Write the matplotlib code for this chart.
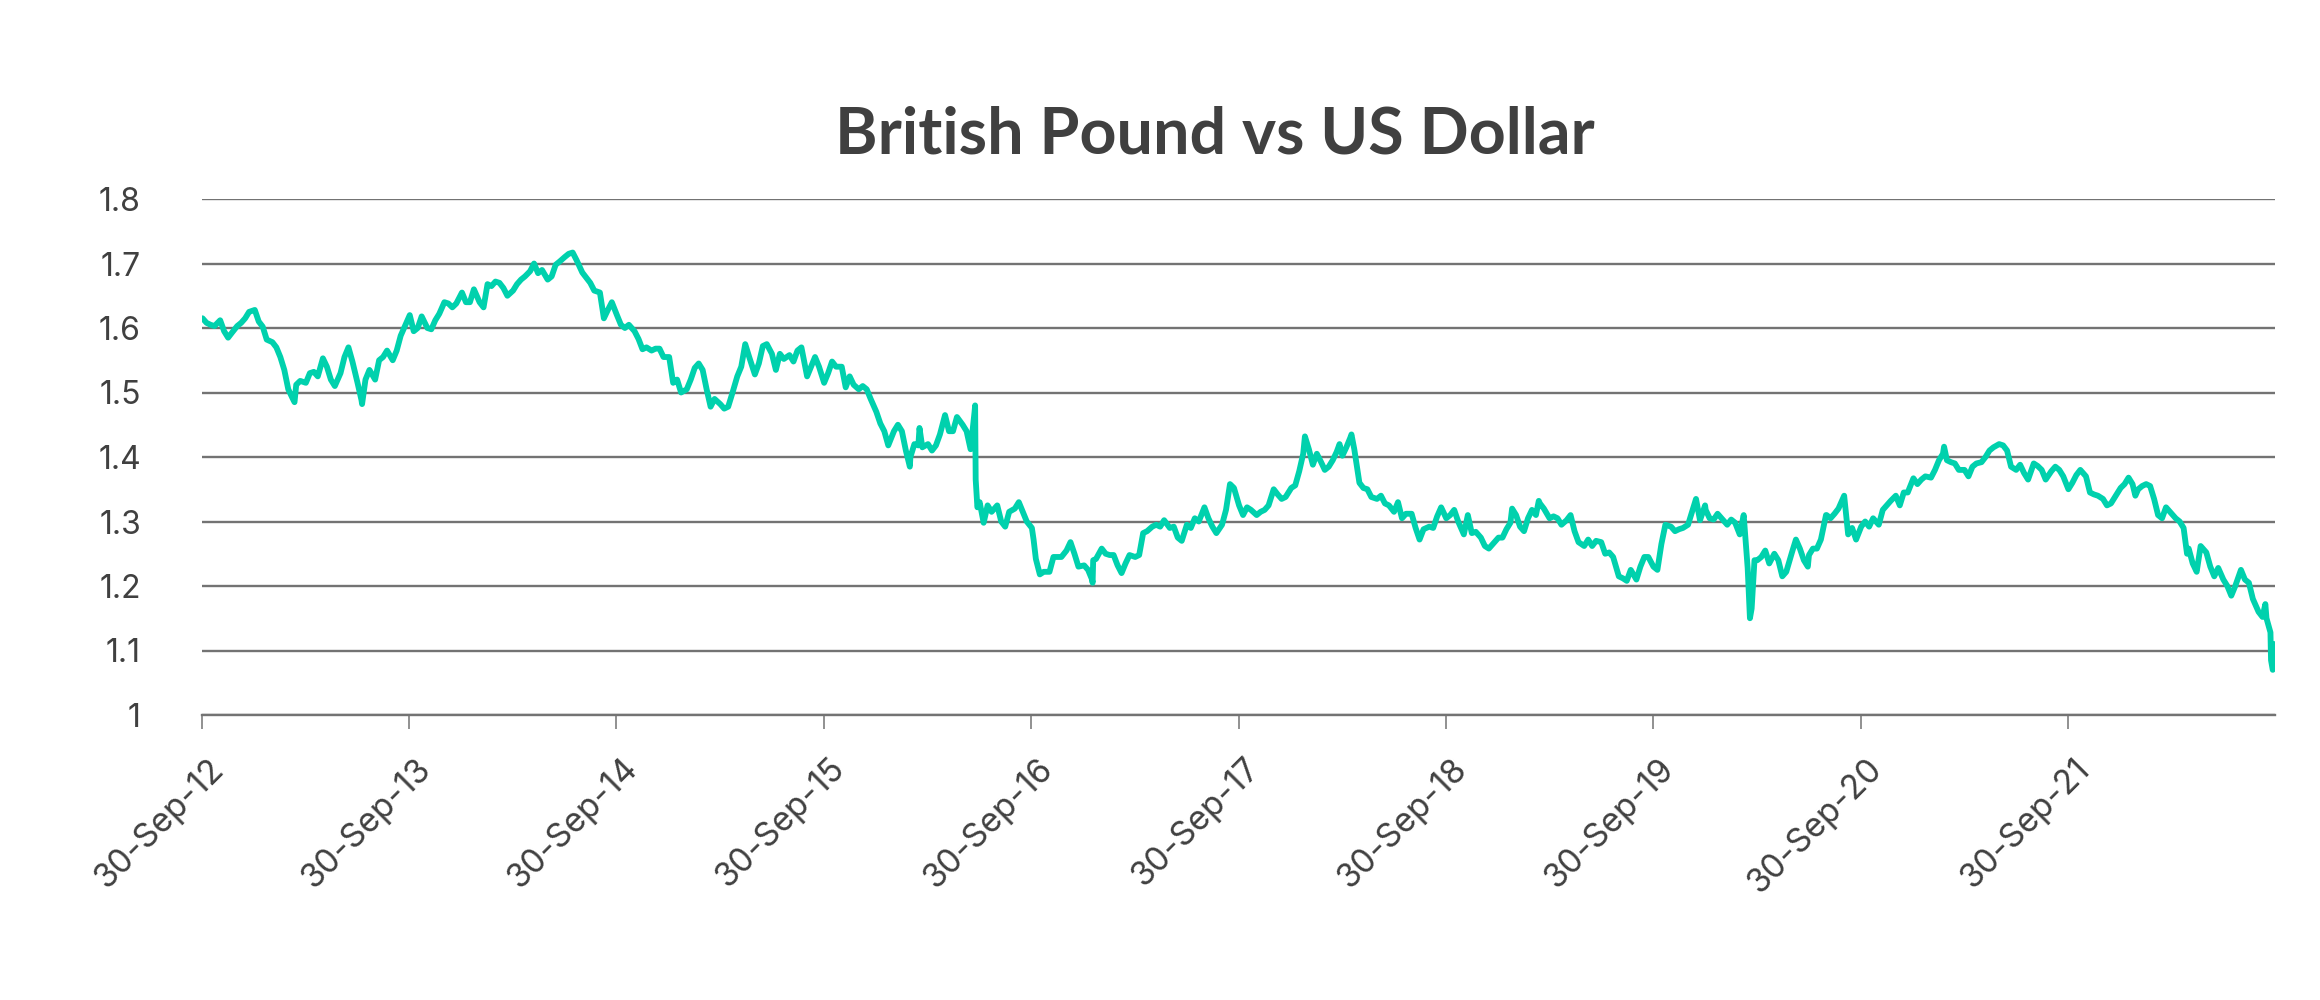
import matplotlib
matplotlib.use('Agg')
import matplotlib.pyplot as plt
import matplotlib.dates as mdates
from matplotlib.ticker import FuncFormatter
from matplotlib.transforms import ScaledTranslation
import numpy as np
import pandas as pd

plt.rcParams['font.family'] = ['Inter', 'DejaVu Sans']

# GBP/USD, 4 points a month (1st, 8th, 15th, 22nd)
gbp_2012 = [1.615, 1.608, 1.605, 1.603,  1.612, 1.595, 1.585, 1.593,  1.603, 1.608, 1.615, 1.625]  # Oct-Dec
gbp_2013 = [1.628, 1.610, 1.602, 1.582,  1.578, 1.570, 1.555, 1.535,  1.505, 1.492, 1.512, 1.518,
            1.515, 1.530, 1.532, 1.525,  1.553, 1.540, 1.520, 1.510,  1.530, 1.555, 1.570, 1.548,
            1.515, 1.488, 1.520, 1.535,  1.520, 1.550, 1.555, 1.565,  1.550, 1.565, 1.588, 1.602,
            1.620, 1.595, 1.600, 1.618,  1.600, 1.598, 1.612, 1.622,  1.640, 1.638, 1.632, 1.638]
gbp_2014 = [1.655, 1.640, 1.640, 1.660,  1.640, 1.632, 1.668, 1.665,  1.672, 1.670, 1.662, 1.650,
            1.658, 1.668, 1.675, 1.680,  1.688, 1.700, 1.685, 1.690,  1.675, 1.680, 1.698, 1.703,
            1.710, 1.715, 1.712, 1.705,  1.686, 1.678, 1.670, 1.658,  1.655, 1.615, 1.628, 1.640,
            1.620, 1.605, 1.600, 1.605,  1.595, 1.583, 1.567, 1.570,  1.565, 1.568, 1.568, 1.555]
gbp_2015 = [1.555, 1.515, 1.520, 1.500,  1.505, 1.520, 1.538, 1.545,  1.535, 1.505, 1.478, 1.490,
            1.482, 1.475, 1.478, 1.498,  1.525, 1.540, 1.575, 1.555,  1.528, 1.545, 1.572, 1.575,
            1.560, 1.535, 1.560, 1.552,  1.558, 1.548, 1.565, 1.570,  1.525, 1.540, 1.555, 1.540,
            1.515, 1.530, 1.548, 1.540,  1.540, 1.508, 1.525, 1.512,  1.505, 1.510, 1.505, 1.490]
gbp_2016 = [1.470, 1.452, 1.440, 1.418,  1.440, 1.450, 1.440, 1.410,  1.400, 1.420, 1.418, 1.415,
            1.420, 1.410, 1.418, 1.435,  1.465, 1.440, 1.440, 1.462,  1.450, 1.440, 1.412, 1.470,
            1.330, 1.298, 1.325, 1.315,  1.325, 1.300, 1.292, 1.315,  1.320, 1.330, 1.315, 1.300,
            1.290, 1.242, 1.218, 1.222,  1.222, 1.245, 1.245, 1.245,  1.255, 1.268, 1.250, 1.230]
gbp_2017 = [1.232, 1.225, 1.210, 1.242,  1.258, 1.250, 1.248, 1.248,  1.232, 1.220, 1.235, 1.248,
            1.245, 1.248, 1.282, 1.285,  1.292, 1.295, 1.292, 1.302,  1.290, 1.292, 1.275, 1.270,
            1.295, 1.290, 1.305, 1.300,  1.322, 1.305, 1.292, 1.282,  1.295, 1.318, 1.358, 1.352,
            1.325, 1.310, 1.322, 1.318,  1.310, 1.315, 1.318, 1.325,  1.350, 1.342, 1.335, 1.338]
gbp_2018 = [1.352, 1.356, 1.378, 1.405,  1.412, 1.388, 1.405, 1.393,  1.380, 1.385, 1.395, 1.408,
            1.402, 1.415, 1.430, 1.412,  1.360, 1.352, 1.350, 1.338,  1.335, 1.340, 1.328, 1.325,
            1.315, 1.330, 1.305, 1.312,  1.312, 1.290, 1.272, 1.288,  1.292, 1.290, 1.308, 1.322,
            1.305, 1.310, 1.318, 1.300,  1.280, 1.310, 1.282, 1.284,  1.275, 1.262, 1.258, 1.265]
gbp_2019 = [1.275, 1.275, 1.288, 1.298,  1.310, 1.292, 1.285, 1.305,  1.318, 1.310, 1.328, 1.320,
            1.305, 1.308, 1.305, 1.295,  1.302, 1.310, 1.285, 1.268,  1.262, 1.272, 1.262, 1.270,
            1.268, 1.250, 1.252, 1.245,  1.215, 1.212, 1.208, 1.225,  1.210, 1.230, 1.245, 1.245,
            1.230, 1.225, 1.265, 1.295,  1.292, 1.285, 1.288, 1.290,  1.295, 1.315, 1.335, 1.302]
gbp_2020 = [1.318, 1.305, 1.303, 1.312,  1.302, 1.295, 1.303, 1.298,  1.280, 1.310, 1.228, 1.165,
            1.240, 1.245, 1.255, 1.235,  1.250, 1.240, 1.215, 1.222,  1.252, 1.272, 1.258, 1.240,
            1.248, 1.258, 1.258, 1.272,  1.310, 1.305, 1.312, 1.320,  1.340, 1.280, 1.290, 1.272,
            1.292, 1.300, 1.292, 1.305,  1.295, 1.318, 1.325, 1.332,  1.340, 1.325, 1.345, 1.345]
gbp_2021 = [1.367, 1.358, 1.365, 1.370,  1.368, 1.380, 1.395, 1.405,  1.395, 1.392, 1.390, 1.380,
            1.380, 1.370, 1.385, 1.390,  1.392, 1.400, 1.410, 1.415,  1.420, 1.418, 1.410, 1.385,
            1.380, 1.388, 1.375, 1.365,  1.390, 1.386, 1.380, 1.365,  1.378, 1.385, 1.380, 1.370,
            1.350, 1.360, 1.372, 1.380,  1.370, 1.345, 1.342, 1.340,  1.335, 1.325, 1.328, 1.338]
gbp_2022 = [1.352, 1.358, 1.368, 1.358,  1.350, 1.355, 1.358, 1.355,  1.335, 1.310, 1.305, 1.322,
            1.312, 1.305, 1.300, 1.290,  1.258, 1.235, 1.222, 1.262,  1.252, 1.230, 1.215, 1.228,
            1.210, 1.200, 1.185, 1.200,  1.225, 1.210, 1.205, 1.180,  1.160, 1.152, 1.150, 1.128]  # Jan-Sep

# single days where the pound jumped
spike_dates = ['2012-09-30', '2013-03-12', '2013-07-09', '2014-07-15', '2016-02-29',
               '2016-03-17', '2016-06-23', '2016-06-24', '2016-06-27', '2016-10-04',
               '2017-01-16', '2017-01-17', '2018-01-25', '2018-03-27', '2018-04-17',
               '2019-01-25', '2019-03-13', '2019-12-31', '2020-03-19', '2020-03-27',
               '2020-06-29', '2020-07-31', '2021-02-24', '2022-01-27', '2022-04-28',
               '2022-09-13', '2022-09-23', '2022-09-26', '2022-09-28', '2022-09-29',
               '2022-09-30']
spike_values = [1.615, 1.485, 1.482, 1.717, 1.385,
                1.445, 1.480, 1.365, 1.322, 1.272,
                1.205, 1.240, 1.432, 1.420, 1.435,
                1.320, 1.332, 1.325, 1.150, 1.240,
                1.230, 1.310, 1.416, 1.340, 1.250,
                1.172, 1.085, 1.070, 1.075, 1.110,
                1.105]

tick_dates = ['2012-09-30', '2013-09-30', '2014-09-30', '2015-09-30', '2016-09-30',
              '2017-09-30', '2018-09-30', '2019-09-30', '2020-09-30', '2021-09-30']

week_days = [1, 8, 15, 22]
yearly = {2012: gbp_2012, 2013: gbp_2013, 2014: gbp_2014, 2015: gbp_2015, 2016: gbp_2016,
          2017: gbp_2017, 2018: gbp_2018, 2019: gbp_2019, 2020: gbp_2020, 2021: gbp_2021,
          2022: gbp_2022}
dates, values = [], []
for year, vals in yearly.items():
    first_month = 10 if year == 2012 else 1
    for i, v in enumerate(vals):
        dates.append(pd.Timestamp(year, first_month + i // 4, week_days[i % 4]))
        values.append(v)
s = pd.Series(values, index=pd.DatetimeIndex(dates))
s = pd.concat([s, pd.Series(spike_values, index=pd.to_datetime(spike_dates))])
s = s[~s.index.duplicated(keep='last')].sort_index()

grey = '#737373'
text_col = '#404040'

fig = plt.figure(figsize=(23.2, 10), dpi=100)
ax = fig.add_axes([202 / 2320, 0.285, (2275 - 202) / 2320, 0.516])

ax.plot(s.index, s.values, color='#00D1AD', lw=4.2, solid_joinstyle='round',
        solid_capstyle='round', zorder=3)

ax.set_xlim(pd.Timestamp('2012-09-30'), pd.Timestamp('2022-09-30'))
ax.set_ylim(1.0, 1.8)
ax.set_yticks(np.arange(1.0, 1.81, 0.1))
ax.yaxis.set_major_formatter(FuncFormatter(lambda v, p: f'{v:.1f}'.rstrip('0').rstrip('.')))
ax.set_xticks(pd.to_datetime(tick_dates))
ax.xaxis.set_major_formatter(mdates.DateFormatter('%d-%b-%y'))

ax.yaxis.grid(True, color=grey, lw=1.7)
for side in ['left', 'right', 'top']:
    ax.spines[side].set_visible(False)
ax.spines['bottom'].set_color(grey)
ax.spines['bottom'].set_linewidth(1.7)

ax.tick_params(axis='y', length=0, pad=44, labelsize=23, labelcolor=text_col)
ax.tick_params(axis='x', length=10, width=1.1, color=grey, pad=25, labelsize=24,
               labelcolor=text_col)
shift = ScaledTranslation(0.17, 0, fig.dpi_scale_trans)
for lab in ax.get_xticklabels():
    lab.set_rotation(45)
    lab.set_ha('right')
    lab.set_va('center')
    lab.set_rotation_mode('anchor')
    lab.set_transform(lab.get_transform() + shift)

fig.text(1215 / 2320, 0.847, 'British Pound vs US Dollar', ha='center', va='baseline',
         fontsize=46.5, fontweight='bold', color=text_col, family=['Lato', 'DejaVu Sans'])

fig.savefig('out.png', dpi=100, facecolor='white')
